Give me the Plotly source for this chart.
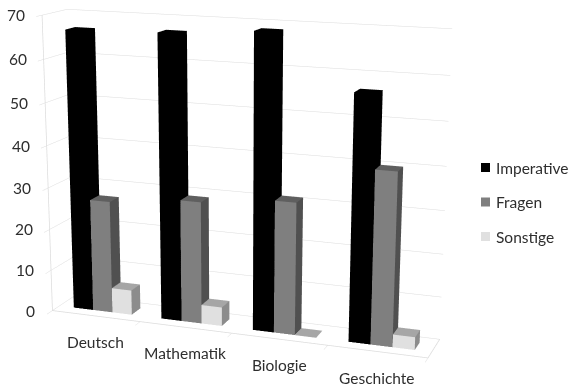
import plotly.graph_objects as go

# Share of utterance types per school subject
subjects = ["Deutsch", "Mathematik", "Biologie", "Geschichte"]
series_names = ["Imperative", "Fragen", "Sonstige"]
imperative = [66.5, 67, 68.5, 56.5]
fragen = [27, 29, 31, 40]
sonstige = [6, 4.5, 0, 3]
series_values = [imperative, fragen, sonstige]
value_ticks = [0, 10, 20, 30, 40, 50, 60, 70]

# front, top and side shades for each series
face_colors = [
    {"front": "#000000", "top": "#000000", "side": "#000000"},
    {"front": "#7f7f7f", "top": "#5f5f5f", "side": "#505050"},
    {"front": "#e0e0e0", "top": "#a6a6a6", "side": "#8c8c8c"},
]

FONT = "Lato, Carlito, Calibri, sans-serif"
TEXT = "#2e2e2e"
GRID = "#dcdcdc"
LABEL_SIZE = 15.5

# The page shows a 385px band of a taller canvas, which narrows the
# field of view of the 3D scene to a long-lens look.
CANVAS_W, CANVAS_H = 568, 1118
TOP_CROP = 367

BAR_W = 1 / 4.5
BAR_GAP = 0.75 * BAR_W
DEPTH = (0.3, 0.7)


def bar_mesh(values, shades, series_idx):
    xs, ys, zs, i, j, k, colors = [], [], [], [], [], [], []
    for cat, val in enumerate(values):
        x0 = cat + BAR_GAP + series_idx * BAR_W
        x1 = x0 + BAR_W
        b = len(xs)
        for z in (0, val):
            for x, y in ((x0, DEPTH[0]), (x1, DEPTH[0]), (x1, DEPTH[1]), (x0, DEPTH[1])):
                xs.append(x)
                ys.append(y)
                zs.append(z)
        faces = [
            ((0, 1, 5), "front"), ((0, 5, 4), "front"),
            ((1, 2, 6), "side"), ((1, 6, 5), "side"),
            ((4, 5, 6), "top"), ((4, 6, 7), "top"),
            ((3, 0, 4), "side"), ((3, 4, 7), "side"),
            ((2, 3, 7), "side"), ((2, 7, 6), "side"),
        ]
        for (a, c, d), face in faces:
            i.append(b + a)
            j.append(b + c)
            k.append(b + d)
            colors.append(shades[face])
    return go.Mesh3d(
        x=xs, y=ys, z=zs, i=i, j=j, k=k, facecolor=colors, flatshading=True,
        lighting=dict(ambient=1, diffuse=0, specular=0, fresnel=0, roughness=1),
        name=series_names[series_idx], hoverinfo="skip", showscale=False,
    )


fig = go.Figure()
for idx, vals in enumerate(series_values):
    fig.add_trace(bar_mesh(vals, face_colors[idx], idx))

# Outline of the chart floor and the front edge of the value axis
n = len(subjects)
top = value_ticks[-1]
fig.add_trace(go.Scatter3d(
    x=[0, n, n, None, 0, 0], y=[0, 0, 1, None, 0, 0], z=[0, 0, 0, None, 0, top],
    mode="lines", line=dict(color=GRID, width=1.5), hoverinfo="skip", showlegend=False,
))

annotations = []
for v in value_ticks:
    annotations.append(dict(
        x=0, y=0, z=v, text=str(v), showarrow=False, xanchor="right", yanchor="middle",
        xshift=-15, font=dict(family=FONT, size=LABEL_SIZE, color=TEXT),
    ))
for c, name in enumerate(subjects):
    annotations.append(dict(
        x=c + 0.5, y=0, z=0, text=name, showarrow=False, xanchor="center", yanchor="middle",
        xshift=0, yshift=-26, font=dict(family=FONT, size=LABEL_SIZE, color=TEXT),
    ))


def axis(**kw):
    return dict(
        showbackground=False, showline=False, zeroline=False, showspikes=False,
        showticklabels=False, title=dict(text=""), autorange=False, **kw,
    )


def paper_y(py):
    return 1 - (py + TOP_CROP) / CANVAS_H


# Legend keys and labels placed beside the scene
shapes, legend_labels = [], []
for idx, name in enumerate(series_names):
    cy = 167.5 + 34.5 * idx
    shapes.append(dict(
        type="rect", xref="paper", yref="paper", x0=481 / CANVAS_W, x1=490 / CANVAS_W,
        y0=paper_y(cy - 4.5), y1=paper_y(cy + 4.5),
        fillcolor=face_colors[idx]["front"], line=dict(width=0),
    ))
    legend_labels.append(dict(
        xref="paper", yref="paper", x=494 / CANVAS_W, y=paper_y(cy), text=name,
        showarrow=False, xanchor="left", yanchor="middle",
        font=dict(family=FONT, size=LABEL_SIZE, color=TEXT),
    ))

fig.update_layout(
    width=CANVAS_W, height=CANVAS_H, autosize=False,
    margin=dict(l=0, r=0, t=0, b=0, pad=0),
    paper_bgcolor="white", showlegend=False,
    shapes=shapes, annotations=legend_labels,
    scene=dict(
        domain=dict(x=[0, 1], y=[0, 1]),
        aspectmode="manual", aspectratio=dict(x=1, y=0.134, z=0.771),
        camera=dict(
            eye=dict(x=1.116, y=-3.05, z=0.793),
            center=dict(x=0.101, y=0.033, z=-0.036),
            up=dict(x=-0.035, y=0.076, z=1),
            projection=dict(type="perspective"),
        ),
        xaxis=axis(range=[0, n], showgrid=False, tickvals=list(range(n + 1)), ticks="outside",
                   ticklen=6, tickcolor=GRID),
        yaxis=axis(range=[0, 1], showgrid=False, tickvals=[]),
        zaxis=axis(range=[0, top], tickvals=value_ticks, showgrid=True, gridcolor=GRID, gridwidth=1,
                   ticks="outside", ticklen=4, tickcolor=GRID),
        annotations=annotations,
    ),
)

crop = (
    "document.getElementById('{plot_id}').style.marginTop='-%dpx';"
    "document.body.style.overflow='hidden';" % TOP_CROP
)
fig.write_html("out.html", post_script=crop, config=dict(displayModeBar=False))
